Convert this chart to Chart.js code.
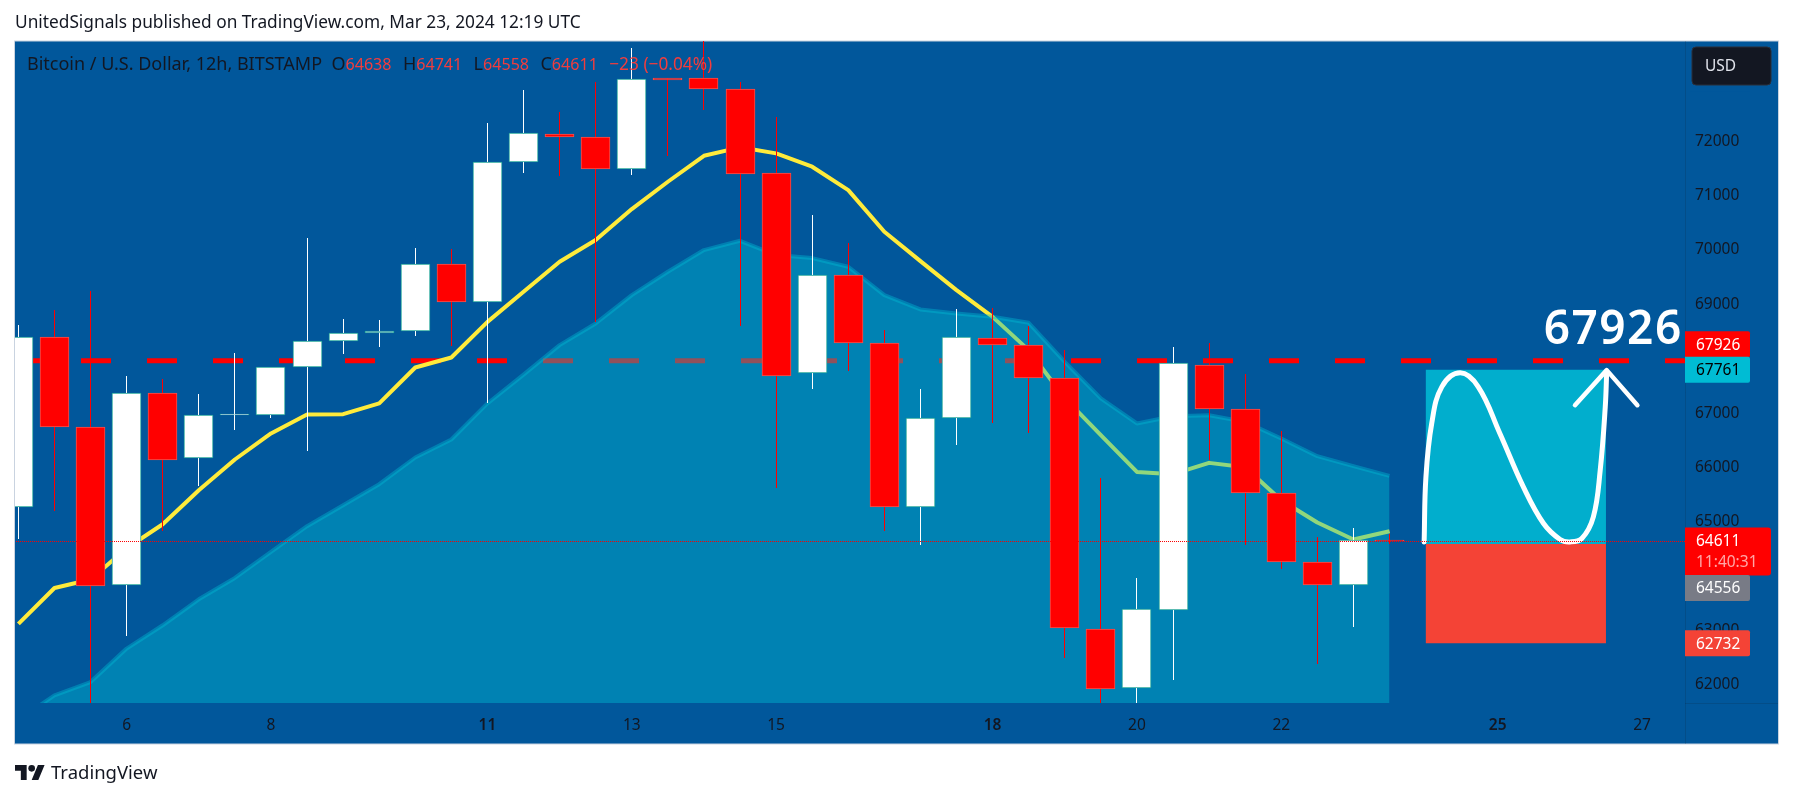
<!DOCTYPE html>
<html>
<head>
<meta charset="utf-8">
<title>BTCUSD 12h</title>
<script src="https://cdn.jsdelivr.net/npm/chart.js@4"></script>
<style>
    html, body { margin: 0; padding: 0; background: #fff; overflow: hidden; }
    #wrap { position: relative; width: 1793px; height: 798px; font-family: 'Noto Sans', sans-serif; color: #131722; }
    #chart { position: absolute; left: 0; top: 0; }
    #published { position: absolute; left: 15px; top: 10px; font-size: 17.3px; line-height: 24px; white-space: nowrap; }
    #legendLine { position: absolute; left: 27px; top: 52px; font-size: 18px; line-height: 22px; white-space: pre; }
    #legendLine b { font-weight: 400; color: #f23d3d; font-size: 16.1px; margin-right: 2px; }
    #legendLine b.change { font-size: 17.3px; margin: 0; }
    #brand { position: absolute; left: 15px; top: 760px; display: flex; align-items: center; }
    #brand span { font-size: 18.5px; margin-left: 6px; line-height: 24px; }
</style>
</head>
<body>
<div id="wrap">
    <canvas id="chart" width="1793" height="798"></canvas>
    <div id="published">UnitedSignals published on TradingView.com, Mar 23, 2024 12:19 UTC</div>
    <div id="legendLine">Bitcoin / U.S. Dollar, 12h, BITSTAMP  O<b>64638</b>  H<b>64741</b>  L<b>64558</b>  C<b>64611</b>  <b class="change">−23 (−0.04%)</b></div>
    <div id="brand">
        <svg width="30" height="15" viewBox="0 4 36 18"><path fill="#131722" d="M14 22H7V11H0V4h14v18zM28 22h-8l7.5-18h8L28 22z"/><circle fill="#131722" cx="20" cy="8" r="4"/></svg>
        <span>TradingView</span>
    </div>
</div>
<script>
// candles, 12h bars
const opens = [65239, 68356, 66700, 63811, 67326, 66130, 66930, 66921, 67804, 68283, 68430, 68467, 69700, 69001, 71577, 72092, 72037, 71459, 73123, 73123, 72920, 71375, 67694, 69497, 68246, 65239, 66866, 68338, 68209, 67602, 63001, 61915, 63351, 67841, 67033, 65486, 64234, 63810, 64638];
const highs = [68583, 68859, 69208, 67644, 67589, 67313, 68062, 67804, 70184, 68693, 68675, 70000, 69976, 72300, 72907, 72503, 73049, 73680, 73130, 73900, 73060, 72405, 70607, 70086, 68491, 67405, 68877, 68890, 68564, 68123, 65762, 63932, 68183, 68246, 67675, 66632, 64687, 64853, 64741];
const lows = [64645, 65165, 61620, 62865, 64797, 65620, 66650, 66877, 66264, 68049, 68183, 68386, 68202, 67142, 71386, 71330, 68643, 71349, 71698, 72539, 68570, 65589, 67405, 67736, 64797, 64534, 66374, 66785, 66590, 62467, 61600, 61600, 62050, 66098, 64534, 64092, 62344, 63031, 64558];
const closes = [68356, 66700, 63792, 67326, 66111, 66921, 66945, 67804, 68283, 68430, 68467, 69700, 69012, 71577, 72111, 72037, 71459, 73104, 73090, 72920, 71356, 67639, 69508, 68246, 65239, 66866, 68356, 68209, 67602, 63020, 61897, 63362, 67878, 67042, 65486, 64234, 63803, 64638, 64611];

// moving averages, one value per bar
const yellowAverage = [63086, 63748, 63903, 64479, 64920, 65546, 66111, 66590, 66939, 66945, 67142, 67804, 67988, 68643, 69196, 69748, 70147, 70718, 71220, 71698, 71853, 71742, 71496, 71067, 70300, 69760, 69227, 68735, 68123, 67239, 66558, 65883, 65841, 66049, 65970, 65362, 64952, 64639, 64792];
const areaAverage = [61320, 61774, 62018, 62633, 63062, 63540, 63932, 64411, 64884, 65270, 65657, 66148, 66479, 67142, 67672, 68215, 68614, 69135, 69564, 69963, 70134, 69871, 69816, 69656, 69135, 68872, 68798, 68735, 68625, 67907, 67234, 66774, 66908, 66926, 66803, 66498, 66172, 65988, 65809];

// hand drawn curve and arrow on the long position
const curveBars = [38.96, 39.01, 39.17, 39.45, 39.96, 40.46, 41.06, 41.71, 42.27, 42.73, 43.0, 43.33, 43.65, 43.84, 43.98, 44.02];
const curvePrices = [64595, 65791, 66773, 67447, 67705, 67447, 66589, 65607, 64933, 64639, 64595, 64657, 65055, 65914, 67079, 67723];
const arrowBars = [43.14, 44.02, 44.87];
const arrowPrices = [67110, 67755, 67110];

// axes
const priceTicks = [62000, 63000, 64000, 65000, 66000, 67000, 68000, 69000, 70000, 71000, 72000, 73000];
const dayTickBars = [3, 7, 13, 17, 21, 27, 31, 35, 41, 45];
const dayTickLabels = ['6', '8', '11', '13', '15', '18', '20', '22', '25', '27'];
const boldDays = ['11', '18', '25'];

// levels
const targetLevel = 67926;
const lastPrice = 64611;
const positionBars = [39, 44];
const takeProfit = 67761;
const entryPrice = 64556;
const stopLoss = 62732;
const countdown = '11:40:31';

const barIndexes = opens.map((_, i) => i);
const isUp = i => closes[i] >= opens[i];
const points = (xs, ys) => xs.map((x, i) => ({ x: x, y: ys[i] }));
const flat = (xs, v) => xs.map(x => ({ x: x, y: v }));
const FONT = "'Noto Sans', sans-serif";
const DARK = '#131722';

const lineBase = { type: 'line', pointRadius: 0, fill: false, borderJoinStyle: 'round' };

// the site snaps bars to whole pixels, so do the same or wicks go blurry
const snapPlugin = {
    id: 'snap',
    afterLayout(chart) {
        // Noto sits a bit high compared to the original font
        chart.scales.y.getLabelItems().forEach(item => { item.options.translation[1] += 2; });
    },
    afterDatasetsUpdate(chart) {
        chart.getSortedVisibleDatasetMetas().forEach(meta => {
            if (meta.type === 'bar') {
                meta.data.forEach(el => {
                    el.x = Math.floor(el.x) + 0.5;
                    el.y = Math.round(el.y);
                    el.base = Math.round(el.base);
                    if (el.base === el.y) el.base = el.y + 1;
                });
            } else if (meta.label === 'Last price') {
                meta.data.forEach(p => {
                    p.x = Math.round(p.x);
                    p.y = Math.floor(p.y) + 0.5;
                });
            }
        });
    }
};

// background and the little pieces around the plot
const framePlugin = {
    id: 'frame',
    beforeDraw(chart) {
        const ctx = chart.ctx;
        const area = chart.chartArea;
        ctx.save();
        ctx.fillStyle = '#01579b';
        ctx.fillRect(15, 41, 1763, 703);
        ctx.strokeStyle = '#c9d3e0';
        ctx.lineWidth = 1;
        ctx.strokeRect(14.5, 41, 1764, 703);
        ctx.strokeStyle = 'rgba(19,23,34,0.15)';
        ctx.beginPath();
        ctx.moveTo(area.right + 0.5, 41);
        ctx.lineTo(area.right + 0.5, 744);
        ctx.moveTo(area.right, area.bottom + 0.5);
        ctx.lineTo(1778, area.bottom + 0.5);
        ctx.stroke();
        ctx.restore();
    },
    afterDraw(chart) {
        const ctx = chart.ctx;
        const y = chart.scales.y;
        const x = chart.scales.x;
        const left = chart.chartArea.right;
        ctx.save();
        ctx.textBaseline = 'middle';
        ctx.textAlign = 'left';

        // big target number
        ctx.font = `600 46px ${FONT}`;
        ctx.letterSpacing = '1.5px';
        ctx.fillStyle = '#fff';
        ctx.textAlign = 'center';
        ctx.fillText(String(targetLevel), x.getPixelForValue(44.2), y.getPixelForValue(targetLevel) - 30);
        ctx.letterSpacing = '0px';
        ctx.textAlign = 'left';

        // price tags, the close ones get pushed apart like on the site
        ctx.font = `15.5px ${FONT}`;
        const tag = (value, bg, fg, shift) => {
            const cy = y.getPixelForValue(value) + shift;
            ctx.fillStyle = bg;
            ctx.beginPath();
            ctx.roundRect(left, cy - 13, 65, 26, [0, 2, 2, 0]);
            ctx.fill();
            ctx.fillStyle = fg;
            ctx.fillText(String(value), 1696, cy + 1);
        };
        tag(targetLevel, '#ff0000', '#fff', -16.5);
        tag(takeProfit, '#00bcd4', '#000', 0);

        const lastY = y.getPixelForValue(lastPrice);
        ctx.fillStyle = '#ff0000';
        ctx.beginPath();
        ctx.roundRect(left, lastY - 13.5, 86, 48, [0, 3, 3, 0]);
        ctx.fill();
        ctx.fillStyle = '#fff';
        ctx.fillText(String(lastPrice), 1696, lastY + 1);
        ctx.fillStyle = 'rgba(255,255,255,0.65)';
        ctx.fillText(countdown, 1696, lastY + 22);

        tag(entryPrice, '#787b86', '#fff', 44);
        tag(stopLoss, '#f44336', '#fff', 0);

        // currency button, it hides nearly all of the top tick label
        ctx.fillStyle = '#01579b';
        ctx.fillRect(1690, 80, 60, 11.5);
        ctx.fillStyle = DARK;
        ctx.strokeStyle = '#2a2e39';
        ctx.beginPath();
        ctx.roundRect(1692, 47, 79, 38, 4);
        ctx.fill();
        ctx.stroke();
        ctx.fillStyle = '#e0e3eb';
        ctx.fillText('USD', 1705, 67);
        ctx.restore();
    }
};

new Chart(document.getElementById('chart'), {
    type: 'bar',
    plugins: [framePlugin, snapPlugin],
    data: {
        datasets: [
            {
                ...lineBase, label: 'Last price', order: 1,
                data: flat([-1, 47], lastPrice),
                borderColor: '#ff0000', borderWidth: 1, borderDash: [1, 1]
            },
            {
                ...lineBase, label: 'Arrow', order: 2,
                data: points(arrowBars, arrowPrices),
                borderColor: '#fff', borderWidth: 4.5, borderCapStyle: 'round'
            },
            {
                ...lineBase, label: 'Curve', order: 2,
                data: points(curveBars, curvePrices),
                borderColor: '#fff', borderWidth: 5, borderCapStyle: 'round', tension: 0.4
            },
            {
                ...lineBase, label: 'Profit zone', order: 3,
                data: flat(positionBars, takeProfit),
                borderWidth: 0, fill: { value: entryPrice }, backgroundColor: '#01aecd'
            },
            {
                ...lineBase, label: 'Loss zone', order: 3,
                data: flat(positionBars, stopLoss),
                borderWidth: 0, fill: { value: entryPrice }, backgroundColor: '#f44336'
            },
            {
                label: 'Bodies', order: 4, grouped: false,
                data: barIndexes.map(i => ({ x: i, y: [Math.min(opens[i], closes[i]), Math.max(opens[i], closes[i])] })),
                barThickness: 29, borderWidth: 1, borderSkipped: false,
                backgroundColor: barIndexes.map(i => isUp(i) ? '#ffffff' : '#ff0000'),
                borderColor: barIndexes.map(i => isUp(i) ? '#26a69a' : '#ef5350')
            },
            {
                label: 'Wicks', order: 5, grouped: false,
                data: barIndexes.map(i => ({ x: i, y: [lows[i], highs[i]] })),
                barThickness: 1, borderWidth: 0, inflateAmount: 0,
                backgroundColor: barIndexes.map(i => isUp(i) ? '#ffffff' : '#ff0000')
            },
            {
                ...lineBase, label: 'Area average', order: 6,
                data: points(barIndexes, areaAverage),
                borderColor: 'rgba(0,188,212,0.4)', borderWidth: 4,
                fill: 'start', backgroundColor: 'rgba(0,188,212,0.43)'
            },
            {
                ...lineBase, label: 'Yellow average', order: 7,
                data: points(barIndexes, yellowAverage),
                borderColor: '#ffeb3b', borderWidth: 4
            },
            {
                ...lineBase, label: 'Target', order: 8,
                data: flat([-0.094, 46.19], targetLevel),
                borderColor: '#ff0000', borderWidth: 5, borderDash: [30, 36]
            }
        ]
    },
    options: {
        responsive: false,
        animation: false,
        events: [],
        layout: { padding: { left: 15, top: 41, right: 15, bottom: 54 } },
        plugins: { legend: { display: false }, tooltip: { enabled: false }, title: { display: false } },
        scales: {
            x: {
                type: 'linear',
                offset: false,
                min: -0.094,
                max: 46.19,
                grid: { display: false, drawTicks: false },
                border: { display: false },
                afterBuildTicks: scale => { scale.ticks = dayTickBars.map(v => ({ value: v })); },
                afterFit: scale => { scale.height = 41; },
                ticks: {
                    autoSkip: false,
                    maxRotation: 0,
                    padding: 13,
                    color: DARK,
                    font: ctx => ({
                        family: FONT, size: 15.5,
                        weight: ctx.tick && boldDays.includes(dayTickLabels[dayTickBars.indexOf(ctx.tick.value)]) ? '600' : '400'
                    }),
                    callback: value => dayTickLabels[dayTickBars.indexOf(value)]
                }
            },
            y: {
                position: 'right',
                min: 61632,
                max: 73809,
                grid: { display: false, drawTicks: false },
                border: { display: false },
                afterBuildTicks: scale => { scale.ticks = priceTicks.map(v => ({ value: v })); },
                afterFit: scale => { scale.width = 93; },
                ticks: {
                    autoSkip: false,
                    crossAlign: 'near',
                    padding: 10,
                    color: DARK,
                    font: { family: FONT, size: 15.5 },
                    callback: value => String(value)
                }
            }
        }
    }
});
</script>
</body>
</html>
